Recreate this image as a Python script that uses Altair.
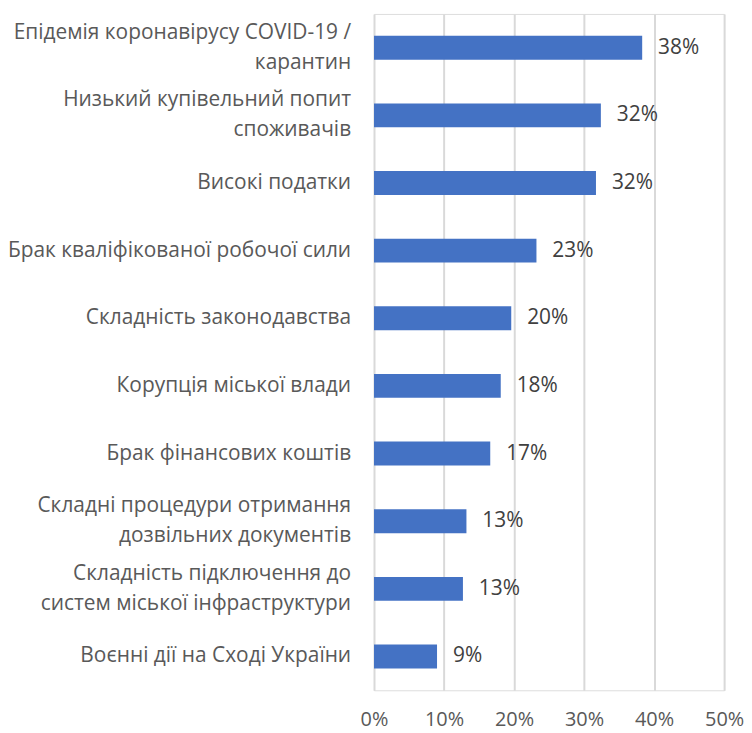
import altair as alt
import pandas as pd

categories = [
    "Епідемія коронавірусу COVID-19 /|карантин",
    "Низький купівельний попит|споживачів",
    "Високі податки",
    "Брак кваліфікованої робочої сили",
    "Складність законодавства",
    "Корупція міської влади",
    "Брак фінансових коштів",
    "Складні процедури отримання|дозвільних документів",
    "Складність підключення до|систем міської інфраструктури",
    "Воєнні дії на Сході України",
]
values = [0.383, 0.324, 0.317, 0.232, 0.196, 0.181, 0.166, 0.132, 0.127, 0.090]
x_ticks = [0, 0.1, 0.2, 0.3, 0.4, 0.5]

df = pd.DataFrame({"cat": categories, "val": values})

FONT = "Open Sans"
FS = 21

y_scale = alt.Scale(paddingInner=0.647, paddingOuter=0.3235)

y_enc = alt.Y(
    "cat:N",
    sort=categories,
    title=None,
    scale=y_scale,
    axis=None,
)

x_enc = alt.X(
    "val:Q",
    title=None,
    scale=alt.Scale(domain=[0, 0.5], nice=False),
    axis=alt.Axis(
        values=x_ticks,
        format=".0%",
        labelFontSize=20,
        labelFont=FONT,
        labelColor="#595959",
        labelPadding=19,
        labelFlush=False,
        ticks=False,
        domain=False,
        grid=True,
        gridColor="#d9d9d9",
        gridWidth=2,
    ),
)

base = alt.Chart(df)

bars = base.mark_bar(color="#4472C4").encode(x=x_enc, y=y_enc)

value_labels = base.mark_text(
    align="left", baseline="middle", dx=16, fontSize=FS, font=FONT, color="#404040"
).encode(x="val:Q", y=alt.Y("cat:N", sort=categories), text=alt.Text("val:Q", format=".0%"))

single_labels = (
    base.transform_filter("indexof(datum.cat, '|') < 0")
    .mark_text(align="right", baseline="middle", fontSize=FS, font=FONT, color="#595959")
    .encode(x=alt.value(-23), y=alt.Y("cat:N", sort=categories), text="cat:N")
)

double_labels = (
    base.transform_filter("indexof(datum.cat, '|') >= 0")
    .mark_text(
        align="right", baseline="middle", dy=-15, lineBreak="|", lineHeight=30,
        fontSize=FS, font=FONT, color="#595959",
    )
    .encode(x=alt.value(-23), y=alt.Y("cat:N", sort=categories), text="cat:N")
)

chart = (
    alt.layer(bars, value_labels, single_labels, double_labels)
    .properties(
        width=352,
        height=680,
        autosize=alt.AutoSizeParams(type="none"),
        padding={"left": 368, "top": 4, "right": 20, "bottom": 45},
    )
    .configure_view(stroke=None)
    .configure(background="white")
)

chart.save("out.html", embed_options={"renderer": "svg", "actions": False})
